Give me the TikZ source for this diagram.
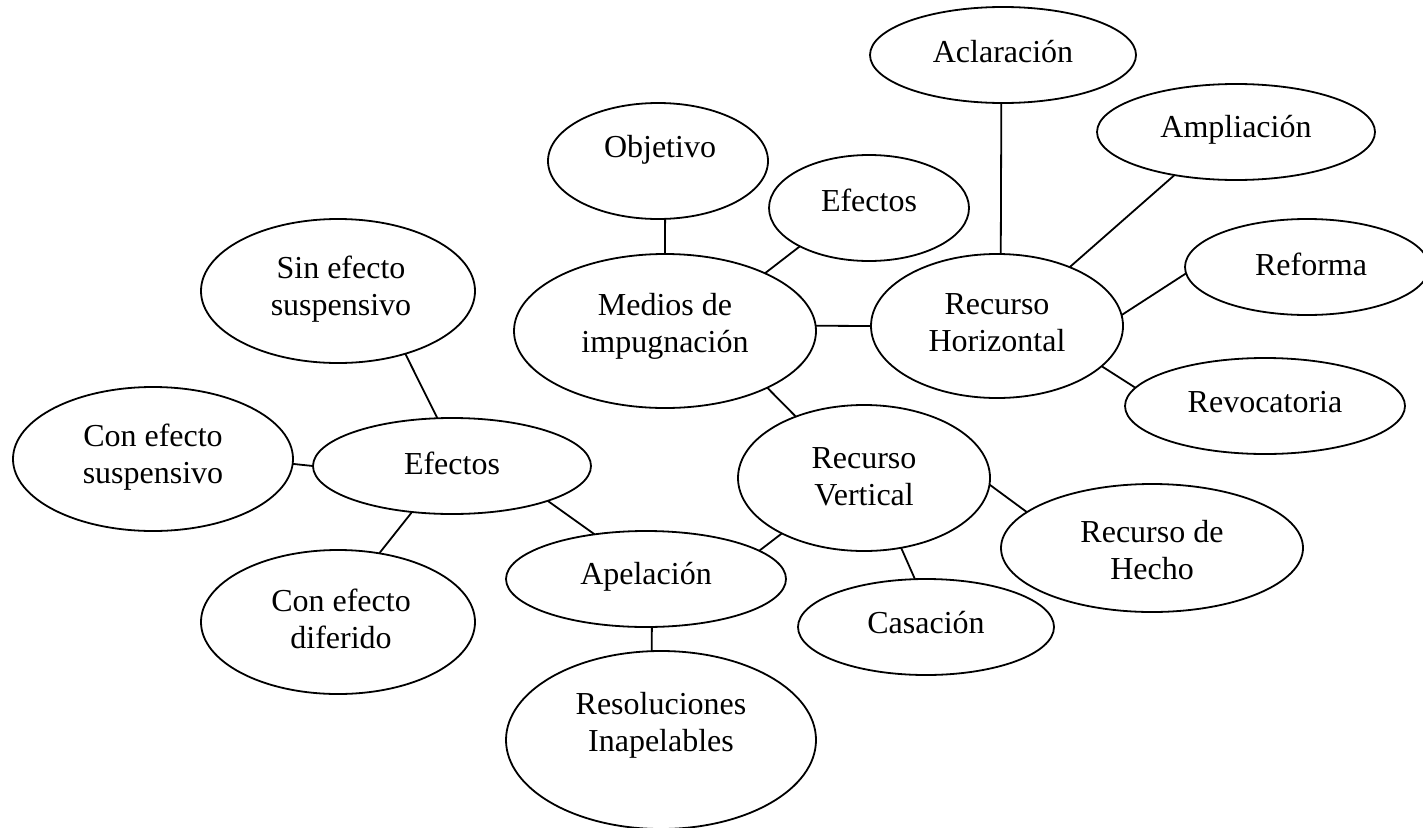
\documentclass[tikz,border=0pt]{standalone}
\usepackage{fontspec}
\setmainfont{Liberation Serif}
\usetikzlibrary{shapes.geometric}
\begin{document}
\begin{tikzpicture}[x=1pt,y=-1pt,
  ell/.style={draw=black,line width=1.8pt,ellipse,inner sep=0pt,outer sep=0pt},
  lbl/.style={align=center,inner sep=0pt,font=\fontsize{32}{37}\selectfont},
  conn/.style={draw=black,line width=1.8pt}]
\useasboundingbox (0,0) rectangle (1423,827);
\clip (0,0) rectangle (1423,827);
% ellipses
\node[ell,minimum width=266pt,minimum height=96pt]  (aclar)  at (1003,55)  {};
\node[ell,minimum width=278pt,minimum height=96pt]  (ampl)   at (1236,132) {};
\node[ell,minimum width=220pt,minimum height=116pt] (obj)    at (658,161)  {};
\node[ell,minimum width=200pt,minimum height=106pt] (efT)    at (869,208)  {};
\node[ell,minimum width=244pt,minimum height=96pt]  (refo)   at (1307,267) {};
\node[ell,minimum width=252pt,minimum height=144pt] (rh)     at (997,326)  {};
\node[ell,minimum width=302pt,minimum height=154pt] (medios) at (665,331)  {};
\node[ell,minimum width=280pt,minimum height=96pt]  (revo)   at (1265,406) {};
\node[ell,minimum width=274pt,minimum height=144pt] (sin)    at (338,291)  {};
\node[ell,minimum width=280pt,minimum height=144pt] (ces)    at (153,459)  {};
\node[ell,minimum width=278pt,minimum height=96pt]  (efL)    at (452,466)  {};
\node[ell,minimum width=252pt,minimum height=146pt] (rv)     at (864,478)  {};
\node[ell,minimum width=302pt,minimum height=128pt] (rdh)    at (1152,548) {};
\node[ell,minimum width=280pt,minimum height=96pt]  (apel)   at (646,579)  {};
\node[ell,minimum width=274pt,minimum height=144pt] (ced)    at (338,622)  {};
\node[ell,minimum width=256pt,minimum height=96pt]  (cas)    at (926,627)  {};
\node[ell,minimum width=310pt,minimum height=178pt] (resol)  at (661,740)  {};
% texts
\node[lbl] (aclarT)  at (1003,52)  {Aclaración};
\node[lbl] (amplT)   at (1236,130) {Ampliación};
\node[lbl] (objT)    at (660,150)  {Objetivo};
\node[lbl] (efTT)    at (869,200)  {Efectos};
\node[lbl] (refoT)   at (1311,264) {Reforma};
\node[lbl] (rhT)     at (997,323)  {Recurso\\Horizontal};
\node[lbl] (revoT)   at (1265,402) {Revocatoria};
\node[lbl] (mediosT) at (665,326)  {Medios de\\impugnación};
\node[lbl] (sinT)    at (341,289)  {Sin efecto\\suspensivo};
\node[lbl] (cesT)    at (153,457)  {Con efecto\\suspensivo};
\node[lbl] (efLT)    at (452,463)  {Efectos};
\node[lbl] (cedT)    at (341,619)  {Con efecto\\diferido};
\node[lbl] (rvT)     at (864,477)  {Recurso\\Vertical};
\node[lbl] (rdhT)    at (1152,550) {Recurso de\\Hecho};
\node[lbl] (apelT)   at (646,577)  {Apelación};
\node[lbl] (casT)    at (926,623)  {Casación};
\node[lbl] (resolT)  at (661,725)  {Resoluciones\\Inapelables};
% connectors
\draw[conn] (aclar.268) -- (rh.87);
\draw[conn] (ampl.215) -- (rh.39);
\draw[conn] (refo.183) -- (rh.5);
\draw[conn] (rh.339) -- (revo.172);
\draw[conn] (medios.2) -- (rh.180);
\draw[conn] (efT.209) -- (medios.30);
\draw[conn] (obj.277) -- (medios.90);
\draw[conn] (medios.331) -- (rv.138);
\draw[conn] (rv.357) -- (rdh.164);
\draw[conn] (rv.298) -- (cas.103);
\draw[conn] (rv.214) -- (apel.14);
\draw[conn] (efL.340) -- (apel.139);
\draw[conn] (sin.317) -- (efL.107);
\draw[conn] (ces.358) -- (efL.180);
\draw[conn] (efL.229) -- (ced.59);
\draw[conn] (apel.277) -- (resol.96);
\end{tikzpicture}
\end{document}
